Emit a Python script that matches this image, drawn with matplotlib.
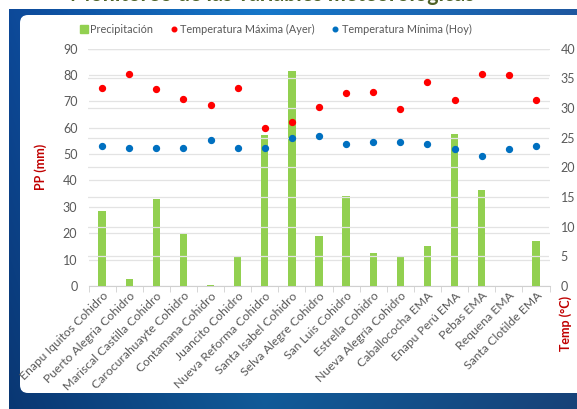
import numpy as np
import matplotlib.pyplot as plt
from matplotlib.patches import FancyBboxPatch
from matplotlib.lines import Line2D

plt.rcParams['font.family'] = ['Lato', 'DejaVu Sans']

# Stations, precipitation (mm) and temperatures (°C).
stations = ['Enapu Iquitos Cohidro', 'Puerto Alegria Cohidro', 'Mariscal Castilla Cohidro',
            'Carocurahuayte Cohidro', 'Contamana Cohidro', 'Juancito Cohidro',
            'Nueva Reforma Cohidro', 'Santa Isabel Cohidro', 'Selva Alegre Cohidro',
            'San Luis Cohidro', 'Estrella Cohidro', 'Nueva Alegría Cohidro',
            'Caballococha EMA', 'Enapu Perú EMA', 'Pebas EMA', 'Requena EMA',
            'Santa Clotilde EMA']
precip = [28.4, 2.5, 32.9, 19.7, 0.3, 11.1, 57.4, 81.3, 19.0, 34.1, 12.6, 10.9,
          15.2, 57.6, 36.3, 0.0, 16.9]
t_max = [33.4, 35.7, 33.2, 31.5, 30.5, 33.4, 26.6, 27.7, 30.1, 32.5, 32.6, 29.8,
         34.3, 31.3, 35.7, 35.5, 31.3]
t_min = [23.6, 23.2, 23.2, 23.2, 24.6, 23.2, 23.2, 24.9, 25.3, 24.0, 24.2, 24.2,
         24.0, 23.1, 21.9, 23.1, 23.5]

W, H = 577, 409
fig = plt.figure(figsize=(W / 100, H / 100), dpi=100)

# Background: blue gradient frame with a white rounded panel on top.
bg = fig.add_axes([0, 0, 1, 1], zorder=-10)
bg.set_xlim(0, W)
bg.set_ylim(H, 0)
bg.axis('off')
gx = np.linspace(0, 1, 300)
gy = np.linspace(0, 1, 200)[:, None]
c_left = np.array([0x0b, 0x3f, 0x8e]) / 255
c_mid = np.array([0x16, 0x78, 0xca]) / 255
c_right = np.array([0x1f, 0x58, 0xa0]) / 255
w = np.clip(1 - np.abs(gx - 0.45) / 0.55, 0, 1)[None, :, None]
side = np.where(gx < 0.45, 1.0, 0.0)[None, :, None]
edge = side * c_left + (1 - side) * c_right
img = w * c_mid + (1 - w) * edge
img = np.broadcast_to(img, (200, 300, 3)) * (1 - 0.25 * gy[..., None])
bg.imshow(img, extent=[9, W, H, 9], aspect='auto', interpolation='bilinear')
bg.add_patch(FancyBboxPatch((20, 15), W + 10, 393 - 15,
                            boxstyle='round,pad=0,rounding_size=8',
                            facecolor='white', edgecolor='none'))

fig.text(272 / W, 1 - 1 / H, 'Monitoreo de las variables meteorológicas',
         ha='center', va='baseline', fontsize=15.5, fontweight='bold', color='#4f6228')

ax = fig.add_axes([88.5 / W, 1 - 286 / H, 461 / W, (286 - 48.5) / H])
ax2 = ax.twinx()
x = np.arange(len(stations))

ax.bar(x, precip, width=0.27, color='#92d050', zorder=3)
ax2.scatter(x, t_max, s=18, color='#ff0000', zorder=4)
ax2.scatter(x, t_min, s=18, color='#0070c0', zorder=4)

ax.set_xlim(-0.5, len(stations) - 0.5)
ax.set_ylim(0, 90)
ax2.set_ylim(0, 40)
ax.set_yticks(np.arange(0, 91, 10))
ax2.set_yticks(np.arange(0, 41, 5))

grid_c = '#e3e3e3'
ax.grid(axis='y', color=grid_c, lw=0.9, zorder=0)
for v in np.arange(5, 41, 5):
    ax2.axhline(v, color=grid_c, lw=0.9, zorder=0)
ax.set_axisbelow(True)

for a in (ax, ax2):
    for s in a.spines.values():
        s.set_visible(False)
    a.tick_params(axis='y', length=0, labelsize=9, labelcolor='#595959', pad=8)
ax.spines['bottom'].set_visible(True)
ax.spines['bottom'].set_color('#d0d0d0')
ax2.tick_params(axis='y', pad=8)

ax.set_xticks(x)
ax.set_xticklabels(stations, rotation=45, ha='right', rotation_mode='anchor',
                   fontsize=8.8, color='#595959')
ax.tick_params(axis='x', length=0, pad=3)
ax.set_xticks(np.arange(-0.5, len(stations), 1), minor=True)
ax.tick_params(axis='x', which='minor', length=4, color='#d0d0d0')

ax.set_ylabel('PP (mm)', color='#c00000', fontsize=9, fontweight='bold')
ax2.set_ylabel('Temp (°C)', color='#c00000', fontsize=9, fontweight='bold')
ax.yaxis.set_label_coords(-0.09, 0.5)
ax2.yaxis.set_label_coords(1.022, -0.156)

handles = [Line2D([], [], marker='s', ls='none', color='#92d050', markersize=6),
           Line2D([], [], marker='o', ls='none', color='#ff0000', markersize=3.3),
           Line2D([], [], marker='o', ls='none', color='#0070c0', markersize=3.3)]
fig.legend(handles, ['Precipitación', 'Temperatura Máxima (Ayer)', 'Temperatura Mínima (Hoy)'],
           loc='center', bbox_to_anchor=(275 / W, 1 - 29 / H), ncol=3, frameon=False,
           fontsize=7.8, labelcolor='#595959', handletextpad=0.1, columnspacing=1.4,
           handlelength=1.0)

fig.savefig('out.png', dpi=100)
